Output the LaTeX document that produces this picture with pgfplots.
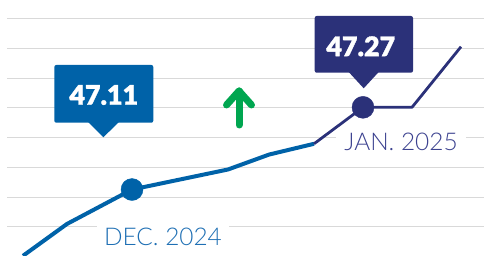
\documentclass[border=0pt]{standalone}
\usepackage{pgfplots}
\pgfplotsset{compat=1.18}
\usepackage{fontspec}
\setmainfont{Lato}
\newfontfamily\lightfont{Lato Light}
\newfontfamily\blackfont{Lato Black}[FakeBold=1.2]
\definecolor{cblue}{HTML}{0062A8}
\definecolor{cnavy}{HTML}{2B3179}
\definecolor{clabelblue}{HTML}{1E6FB4}
\definecolor{clabelnavy}{HTML}{3C4290}
\definecolor{cgreen}{HTML}{00A650}
\definecolor{cgrid}{HTML}{D9D9D9}
\begin{document}
\begin{tikzpicture}
\begin{axis}[at={(7bp,0bp)}, anchor=south west, scale only axis,
  width=477bp, height=256bp,
  xmin=7, xmax=484, ymin=46.9806, ymax=47.4789,
  axis line style={draw=none},
  xtick=\empty,
  ytick={47.0376,47.0948,47.1532,47.2116,47.27,47.3264,47.3849,47.4429},
  yticklabels={}, major tick length=0pt,
  ymajorgrids, grid style={cgrid, line width=1bp}]
\node[fill=white, inner xsep=7bp, inner ysep=2bp, anchor=base, text=clabelblue,
  font=\lightfont\fontsize{24.5}{24.5}\selectfont] at (axis cs:163,47.0006) {DEC. 2024};
\node[fill=white, inner xsep=8bp, inner ysep=2bp, anchor=base, text=clabelnavy,
  font=\lightfont\fontsize{24.5}{24.5}\selectfont] at (axis cs:401,47.1868) {JAN. 2025};
\addplot[cblue, line width=4bp, line join=round] coordinates {
  (23,46.981) (67,47.043) (132,47.110) (228,47.149) (269,47.178) (314,47.199)};
\addplot[cnavy, line width=2.8bp, line join=round] coordinates {
  (314,47.199) (363,47.270) (412,47.270) (461,47.388)};
\addplot[only marks, mark=*, mark size=11bp, cblue, mark options={fill=cblue, draw=cblue}] coordinates {(132,47.110)};
\addplot[only marks, mark=*, mark size=11bp, cnavy, mark options={fill=cnavy, draw=cnavy}] coordinates {(363,47.270)};
\end{axis}
% callout 1
\fill[cblue, rounded corners=2bp] (54.3bp,133.3bp) rectangle (153.3bp,191bp);
\fill[cblue] (88bp,134bp) -- (103.3bp,118.7bp) -- (119bp,134bp) -- cycle;
\node[text=white, font=\blackfont\fontsize{27}{27}\selectfont] at (103.8bp,161bp) {47.11};
% callout 2
\fill[cnavy, rounded corners=2bp] (314.7bp,183.3bp) rectangle (413bp,240bp);
\fill[cnavy] (348.7bp,184bp) -- (363.7bp,167.7bp) -- (378.7bp,184bp) -- cycle;
\node[text=white, font=\blackfont\fontsize{27}{27}\selectfont] at (360.8bp,209.7bp) {47.27};
% green arrow
\draw[cgreen, line width=7bp, line cap=round, line join=round] (239bp,131bp) -- (239bp,165bp);
\draw[cgreen, line width=7bp, line cap=round, line join=round] (226.5bp,151bp) -- (239bp,165bp) -- (251.5bp,151bp);
\pgfresetboundingbox
\path[use as bounding box] (0,0) rectangle (484bp,256bp);
\end{tikzpicture}
\end{document}
